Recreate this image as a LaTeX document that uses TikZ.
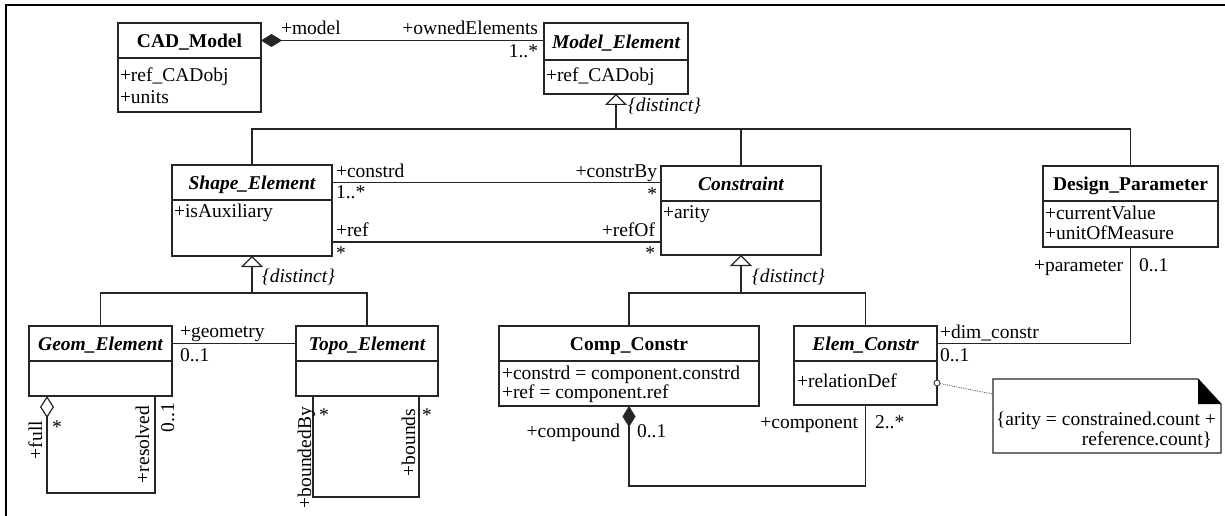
\documentclass[tikz,border=0pt]{standalone}
\usepackage{fontspec}
\setmainfont{Liberation Serif}
\usetikzlibrary{arrows.meta,calc}

\begin{document}
\begin{tikzpicture}[x=1pt,y=-1pt,
  every node/.style={font=\fontsize{19.5}{20}\selectfont, inner sep=0pt, outer sep=0pt},
  conn/.style={draw=black!85, line width=1.2pt},
  hdr/.style={conn, rectangle, anchor=north west, text height=14pt, text depth=0pt},
  cbody/.style={conn, rectangle, anchor=north west},
  la/.style={anchor=base west},
  ra/.style={anchor=base east},
  va/.style={anchor=base west, rotate=90},
  gen/.style={conn, {Triangle[open,length=11pt,width=22pt]}-},
  comp/.style={conn, {Diamond[length=21pt,width=13pt]}-},
  aggr/.style={conn, {Diamond[open,length=22pt,width=14pt]}-},
]
\fill[white] (0,0) rectangle (1225,516);
\useasboundingbox (0,0) rectangle (1225,516);

% frame
\draw[line width=2pt] (1225,5) -- (6,5) -- (6,516);

% ---------- classes ----------
\node[hdr, minimum width=143pt, minimum height=35pt] (cad) at (118,23) {\bfseries CAD\_Model};
\node[cbody, minimum width=143pt, minimum height=54pt] (cad-b) at (cad.south west) {};
\node[la] (cad-a1) at (120,82) {+ref\_CADobj};
\node[la] (cad-a2) at (120,103) {+units};

\node[hdr, minimum width=144pt, minimum height=37pt] (me) at (544,23) {\bfseries\itshape Model\_Element};
\node[cbody, minimum width=144pt, minimum height=34pt] (me-b) at (me.south west) {};
\node[la] (me-a1) at (546,82) {+ref\_CADobj};

\node[hdr, minimum width=160pt, minimum height=35pt] (se) at (172,165) {\bfseries\itshape Shape\_Element};
\node[cbody, minimum width=160pt, minimum height=56pt] (se-b) at (se.south west) {};
\node[la] (se-a1) at (174,217) {+isAuxiliary};

\node[hdr, minimum width=160pt, minimum height=35pt] (con) at (661,166) {\bfseries\itshape Constraint};
\node[cbody, minimum width=160pt, minimum height=54pt] (con-b) at (con.south west) {};
\node[la] (con-a1) at (663,218) {+arity};

\node[hdr, minimum width=175pt, minimum height=35pt] (dp) at (1043,166) {\bfseries Design\_Parameter};
\node[cbody, minimum width=175pt, minimum height=46pt] (dp-b) at (dp.south west) {};
\node[la] (dp-a1) at (1045,219) {+currentValue};
\node[la] (dp-a2) at (1045,239) {+unitOfMeasure};

\node[hdr, minimum width=143pt, minimum height=35pt] (ge) at (29,326) {\bfseries\itshape Geom\_Element};
\node[cbody, minimum width=143pt, minimum height=35pt] (ge-b) at (ge.south west) {};

\node[hdr, minimum width=142pt, minimum height=35pt] (te) at (296,326) {\bfseries\itshape Topo\_Element};
\node[cbody, minimum width=142pt, minimum height=35pt] (te-b) at (te.south west) {};

\node[hdr, minimum width=260pt, minimum height=35pt] (cc) at (499,326) {\bfseries Comp\_Constr};
\node[cbody, minimum width=260pt, minimum height=45pt] (cc-b) at (cc.south west) {};
\node[la] (cc-a1) at (502,379) {+constrd = component.constrd};
\node[la] (cc-a2) at (502,398) {+ref = component.ref};

\node[hdr, minimum width=143pt, minimum height=35pt] (ec) at (794,326) {\bfseries\itshape Elem\_Constr};
\node[cbody, minimum width=143pt, minimum height=44pt] (ec-b) at (ec.south west) {};
\node[la] (ec-a1) at (797,387) {+relationDef};

% ---------- note ----------
\node[minimum width=228pt, minimum height=74pt, anchor=north west] (note) at (993,379) {};
\draw[conn] (note.north west) -- ([xshift=-23pt]note.north east) -- ([yshift=-25pt]note.north east)
  -- (note.south east) -- (note.south west) -- cycle;
\fill[black] ([xshift=-23pt]note.north east) -- ([xshift=-23pt,yshift=-25pt]note.north east)
  -- ([yshift=-25pt]note.north east) -- cycle;
\node[la] (nt1) at (996,425) {\{arity = constrained.count +};
\node[ra] (nt2) at (1212,445) {reference.count\}};
\node[circle, draw=black!85, line width=0.8pt, minimum size=6pt, fill=white] (pin) at (ec-b.east) {};
\draw[densely dotted, line width=0.8pt, black!70] (pin) -- ([yshift=22pt]note.west);

% ---------- generalizations ----------
\coordinate (busA) at ($(me-b.south)+(0,35)$);
\draw[gen] (me-b.south) -- (busA);
\draw[conn] (se.north) |- (busA) -| (dp.north);
\draw[conn] (con.north) -- (con.north |- busA);
\node[la] (dA) at (628,112) {\itshape\{distinct\}};

\coordinate (busS) at ($(se-b.south)+(0,37)$);
\draw[gen] (se-b.south) -- (busS);
\draw[conn] (ge.north) |- (busS) -| (te.north);
\node[la] (dS) at (262,282) {\itshape\{distinct\}};

\coordinate (busC) at ($(con-b.south)+(0,38)$);
\draw[gen] (con-b.south) -- (busC);
\draw[conn] (cc.north) |- (busC) -| (ec.north);
\node[la] (dC) at (752,282) {\itshape\{distinct\}};

% ---------- associations ----------
\draw[comp] (cad.east) -- (cad.east -| me.west);
\node[la] (l-model) at (281,35) {+model};
\node[ra] (l-owned) at (538,35) {+ownedElements};
\node[ra] (m-owned) at (538,58) {1..*};

\draw[conn] (se.east) -- (se.east -| con.west);
\coordinate (r1) at ([yshift=14pt]se-b.south east);
\draw[conn] (r1) -- (r1 -| con-b.west);
\node[la] (l-constrd) at (336,177) {+constrd};
\node[la] (m-constrd) at (336,198) {1..*};
\node[la] (l-ref) at (336,236) {+ref};
\node[la] (m-ref) at (336,259) {*};
\node[ra] (l-constrBy) at (657,177) {+constrBy};
\node[ra] (m-constrBy) at (657,200) {*};
\node[ra] (l-refOf) at (655,236) {+refOf};
\node[ra] (m-refOf) at (655,259) {*};

\draw[conn] (ge.east) -- (te.west);
\node[la] (l-geom) at (180,337) {+geometry};
\node[la] (m-geom) at (180,361) {0..1};

\draw[conn] (dp-b.south) |- (ec.east);
\node[ra] (l-param) at (1123,271) {+parameter};
\node[la] (m-param) at (1139,271) {0..1};
\node[la] (l-dim) at (940,338) {+dim\_constr};
\node[la] (m-dim) at (940,361) {0..1};

% Geom_Element self association
\coordinate (gfull) at ([xshift=18pt]ge-b.south west);
\coordinate (gres) at ([xshift=-17pt]ge-b.south east);
\draw[aggr] (gfull) -- ++(0,97) -| (gres);
\node[va] (l-full) at (42,459) {+full};
\node[anchor=base] (m-full) at (57,433) {*};
\node[va] (l-res) at (149,483) {+resolved};
\node[va] (m-res) at (174,432) {0..1};

% Topo_Element self association
\coordinate (tbb) at ([xshift=17pt]te-b.south west);
\coordinate (tbs) at ([xshift=-19pt]te-b.south east);
\draw[conn] (tbb) -- ++(0,101) -| (tbs);
\node[va] (l-bby) at (311,508) {+boundedBy};
\node[anchor=base] (m-bby) at (324,421) {*};
\node[va] (l-bds) at (415,476) {+bounds};
\node[anchor=base] (m-bds) at (427,421) {*};

% Comp_Constr composition of Elem_Constr
\draw[comp] (cc-b.south) -- ++(0,80) -| (ec-b.south);
\node[ra] (l-compound) at (620,437) {+compound};
\node[la] (m-compound) at (637,437) {0..1};
\node[ra] (l-component) at (858,428) {+component};
\node[la] (m-component) at (875,428) {2..*};

\end{tikzpicture}
\end{document}
